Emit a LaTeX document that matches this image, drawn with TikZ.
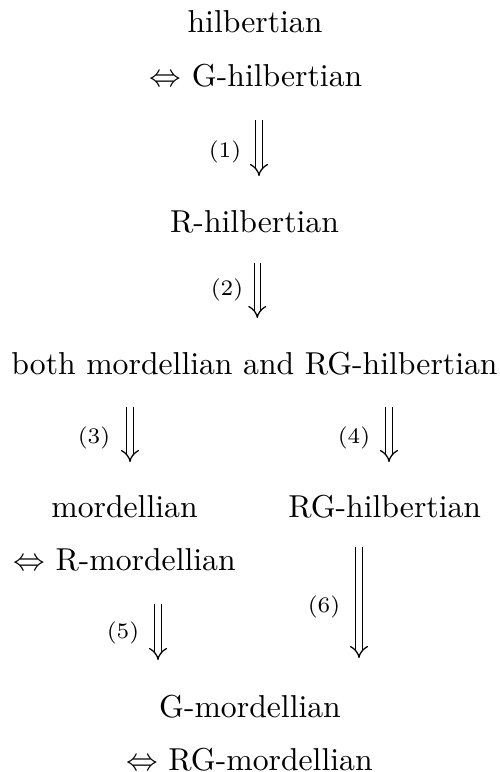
\documentclass[tikz,border=0pt]{standalone}
\usetikzlibrary{arrows.meta}
\begin{document}
\begin{tikzpicture}[x=0.3155pt,y=-0.3155pt,
  txt/.style={anchor=base,inner sep=0pt,outer sep=0pt},
  lbl/.style={inner sep=0pt,outer sep=0pt,font=\scriptsize},
  imp/.style={double,double distance=1.6pt,line width=0.4pt,-{Implies[scale=1.4]}}]
\useasboundingbox (0,0) rectangle (500,772);
% texts
\node[txt] (hil) at (255,33) {hilbertian};
\node[txt] (ghil) at (256,87) {$\Leftrightarrow$ G-hilbertian};
\node[txt] (rhil) at (254.5,233) {R-hilbertian};
\node[txt] (both) at (254.5,374) {both mordellian and RG-hilbertian};
\node[txt] (mor) at (124.5,517) {mordellian};
\node[txt] (rmor) at (124.5,570) {$\Leftrightarrow$ R-mordellian};
\node[txt] (rghil) at (384.7,517) {RG-hilbertian};
\node[txt] (gmor) at (250,717) {G-mordellian};
\node[txt] (rgmor) at (249.4,770) {$\Leftrightarrow$ RG-mordellian};
% arrow ends
\coordinate (a1s) at (259,120);   \coordinate (a1e) at (259,176);
\coordinate (a2s) at (257.3,263); \coordinate (a2e) at (257.3,318);
\coordinate (a3s) at (130,407);   \coordinate (a3e) at (130,462);
\coordinate (a4s) at (389,407);   \coordinate (a4e) at (389,462);
\coordinate (a5s) at (158,604);   \coordinate (a5e) at (158,660);
\coordinate (a6s) at (359,547);   \coordinate (a6e) at (359,658);
\draw[imp] (a1s) -- (a1e);
\draw[imp] (a2s) -- (a2e);
\draw[imp] (a3s) -- (a3e);
\draw[imp] (a4s) -- (a4e);
\draw[imp] (a5s) -- (a5e);
\draw[imp] (a6s) -- (a6e);
% labels
\node[lbl] (l1) at (225,152) {(1)};
\node[lbl] (l2) at (227,290) {(2)};
\node[lbl] (l3) at (94,438) {(3)};
\node[lbl] (l4) at (354,438) {(4)};
\node[lbl] (l5) at (123,633) {(5)};
\node[lbl] (l6) at (324,607) {(6)};
\end{tikzpicture}
\end{document}
